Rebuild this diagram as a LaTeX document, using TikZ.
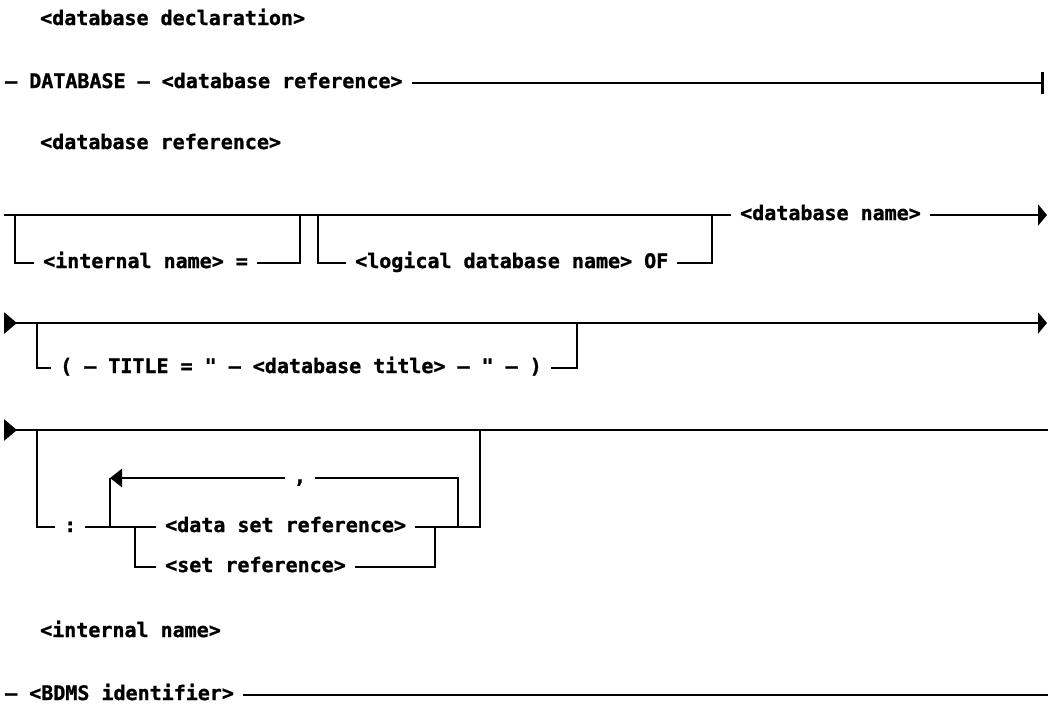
\documentclass[tikz,border=0pt]{standalone}
\usepackage{fontspec}
\setmonofont{DejaVu Sans Mono}[BoldFeatures={FakeBold=1.2}]
\usepackage{tikz}
\usetikzlibrary{arrows.meta}
\usetikzlibrary{calc}

\begin{document}
\begin{tikzpicture}[x=1pt,y=-1pt,
  rail/.style={line width=2.9pt},
  item/.style={anchor=west,inner xsep=9pt,inner ysep=0pt,text height=14pt,text depth=4pt,
    font=\fontsize{20}{24}\selectfont\ttfamily\bfseries},
  endtip/.style={-{Triangle[length=9pt,width=21pt]}},
  endbar/.style={-{Bar[width=22pt,line width=3pt]}},
  starttip/.style={{Triangle[length=13pt,width=21pt,reversed]}-},
  bothtips/.style={{Triangle[length=13pt,width=21pt,reversed]}-{Triangle[length=9pt,width=21pt]}},
  looptip/.style={-{Triangle[length=12pt,width=18pt]}}]
\useasboundingbox (0,0) rectangle (1048,718);

% <database declaration>
\node (ddecl) at (31,20) [item] {<database declaration>};
\node (dbkw) at (-4,83) [item] {– DATABASE – <database reference>};
\coordinate (e1) at (1044,83);
\draw[rail,endbar] (dbkw.east) -- (e1);

% <database reference>
\node (dref) at (31,144) [item] {<database reference>};
\coordinate (s2) at (4,215);
\coordinate (a1) at (15,215); \coordinate (a2) at (300,215);
\coordinate (a3) at (318,215); \coordinate (a4) at (712,215);
\coordinate (e2) at (1047,215);
\node (iname) at (34,263) [item] {<internal name> =};
\node (lname) at (346,263) [item] {<logical database name> OF};
\node (dbname) at (731,215) [item] {<database name>};
\draw[rail] (s2) -- (dbname.west); %main line
\draw[rail] (a1) |- (iname.west);
\draw[rail] (iname.east) -| (a2);
\draw[rail] (a3) |- (lname.west);
\draw[rail] (lname.east) -| (a4);
\draw[rail,endtip] (dbname.east) -- (e2);

% title part
\coordinate (s3) at (4,323); \coordinate (e3) at (1047,323);
\coordinate (b1) at (37,323); \coordinate (b2) at (577,323);
\node (ttl) at (51,368) [item] {( – TITLE = " – <database title> – " – )};
\draw[rail,bothtips] (s3) -- (e3);
\draw[rail] (b1) |- (ttl.west);
\draw[rail] (ttl.east) -| (b2);

% set list part
\coordinate (s4) at (4,430); \coordinate (e4) at (1048,430);
\coordinate (c1) at (37,430); \coordinate (c2) at (480,430);
\node (colon) at (55,527) [item] {:};
\node (dsref) at (156,527) [item] {<data set reference>};
\node (sref) at (156,567) [item] {<set reference>};
\node (comma) at (300,478) [item,anchor=center] {,};
\coordinate (l1) at (110,527); \coordinate (l2) at (458,527);
\coordinate (l3) at (110,478);
\coordinate (k1) at (135,527); \coordinate (k2) at (435,527);
\draw[rail,starttip] (s4) -- (e4);
\draw[rail] (c1) |- (colon.west);
\draw[rail] (colon.east) -- (dsref.west);
\draw[rail] (dsref.east) -| (c2);
\draw[rail] (k1) |- (sref.west);
\draw[rail] (sref.east) -| (k2);
\draw[rail] (l2) |- (comma.east); %loop back
\draw[rail,looptip] (comma.west) -- (l3);
\draw[rail] (l3) -- (l1);

% <internal name>
\node (intn) at (31,632) [item] {<internal name>};
\node (bdms) at (-4,695) [item] {– <BDMS identifier>};
\coordinate (e6) at (1048,695);
\draw[rail] (bdms.east) -- (e6);
\end{tikzpicture}
\end{document}
